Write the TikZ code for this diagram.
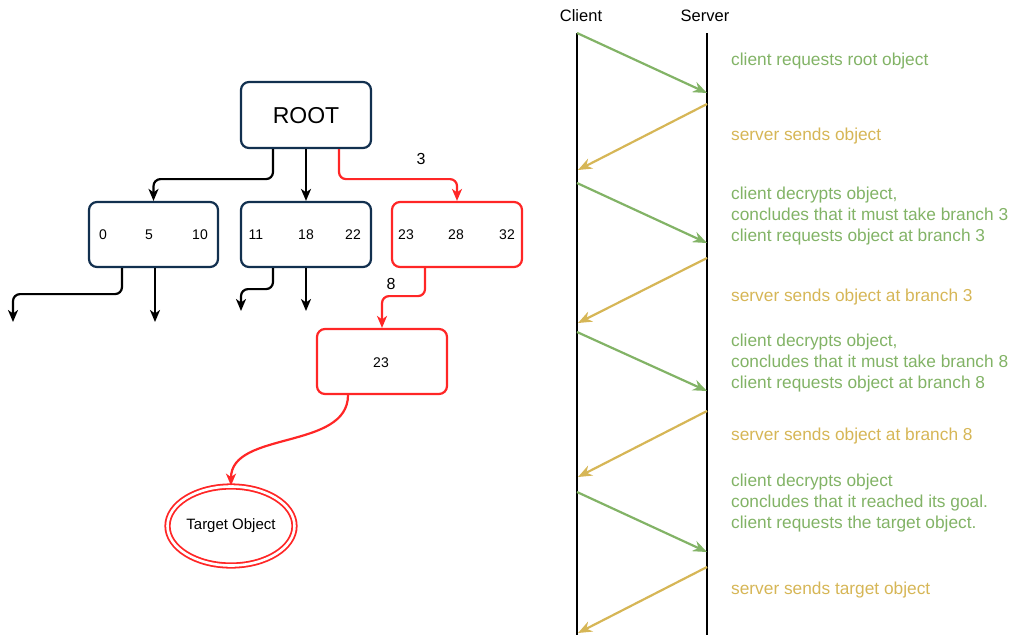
\documentclass[tikz,border=0pt]{standalone}
\usepackage{fontspec}
\setmainfont{Liberation Sans}
\usetikzlibrary{arrows.meta,shapes.geometric,calc}
\definecolor{navy}{HTML}{12304F}
\definecolor{myred}{HTML}{FF2626}
\definecolor{mygreen}{HTML}{82B366}
\definecolor{myyellow}{HTML}{D6B656}
\tikzset{
  box/.style={draw=navy,line width=2.2pt,rounded corners=8pt,minimum width=129pt,minimum height=65pt,inner sep=0pt},
  redbox/.style={box,draw=myred},
  num/.style={font=\fontsize{14}{16}\selectfont,inner sep=0pt},
  tarr/.style={line width=2.2pt,rounded corners=7pt,-{Stealth[length=12pt,width=10pt,inset=3.5pt]}},
  rarr/.style={tarr,draw=myred,-{Stealth[length=12pt,width=10pt,inset=3.5pt,fill=myred]}},
  life/.style={line width=2.4pt},
  req/.style={draw=mygreen,line width=2.2pt,-{Stealth[length=14pt,width=11pt,inset=4.5pt]}},
  resp/.style={draw=myyellow,line width=2.2pt,-{Stealth[length=14pt,width=11pt,inset=4.5pt]}},
  gtxt/.style={text=mygreen,anchor=west,align=left,inner sep=0pt,font=\fontsize{17.3}{20.7}\selectfont},
  ytxt/.style={gtxt,text=myyellow},
  head/.style={font=\fontsize{16.5}{19}\selectfont,inner sep=0pt}
}
\begin{document}
\begin{tikzpicture}[x=1pt,y=-1pt]
\useasboundingbox (0,0) rectangle (1011,635);
% tree
\node[box,minimum width=130pt,minimum height=66pt] (root) at (306,115) {};
\node[font=\fontsize{23}{26}\selectfont,inner sep=0pt] (roottxt) at (306,116) {ROOT};
\node[box] (n1) at (153.5,234.5) {};
\node[box,minimum width=130pt] (n2) at (306,234.5) {};
\node[redbox,minimum width=130pt] (n3) at (457,234.5) {};
\node[redbox,minimum width=130pt] (n4) at (382,361.5) {};
\node[num] (a1) at (103,235) {0};
\node[num] (a2) at (149,235) {5};
\node[num] (a3) at (200,235) {10};
\node[num] (b1) at (256,235) {11};
\node[num] (b2) at (306,235) {18};
\node[num] (b3) at (353,235) {22};
\node[num] (c1) at (406,235) {23};
\node[num] (c2) at (456,235) {28};
\node[num] (c3) at (507,235) {32};
\node[num] (d1) at (381,362.5) {23};
\node[draw=myred,ellipse,line width=1.8pt,double=white,double distance=2.6pt,minimum width=127pt,minimum height=79pt,inner sep=0pt,font=\fontsize{15}{17}\selectfont] (target) at (231,526) {Target Object};
\node[font=\fontsize{16}{18}\selectfont,inner sep=0pt] (l3) at (421,159) {3};
\node[font=\fontsize{16}{18}\selectfont,inner sep=0pt] (l8) at (391,284) {8};
% tree connectors
\draw[tarr] ([xshift=-33pt]root.south) -- ++(0,30) -| (n1.north);
\draw[tarr] (root.south) -- (n2.north);
\draw[rarr] ([xshift=33pt]root.south) -- ++(0,30) -| (n3.north);
\coordinate (e1) at (13,322);
\coordinate (e2) at (155,322);
\coordinate (e3) at (241,311);
\coordinate (e4) at (306,311);
\draw[tarr] ([xshift=-31.5pt]n1.south) -- ++(0,26) -| (e1);
\draw[tarr] ([xshift=1.5pt]n1.south) -- (e2);
\draw[tarr] ([xshift=-33pt]n2.south) -- ++(0,21) -| (e3);
\draw[tarr] (n2.south) -- (e4);
\draw[rarr] ([xshift=-32pt]n3.south) -- ++(0,28) -| (n4.north);
\draw[myred,line width=2.2pt,-{Stealth[length=12pt,width=10pt,inset=3.5pt,fill=myred]}] ([xshift=-34pt]n4.south) .. controls ($([xshift=-34pt]n4.south)+(0,55)$) and ($(target.north)+(0,-55)$) .. (target.north);
% sequence
\node[head] (client) at (581,16) {Client};
\node[head] (server) at (705,16) {Server};
\coordinate (ct) at (577,33);
\coordinate (cb) at (577,635);
\coordinate (st) at (707,33);
\coordinate (sb) at (707,635);
\draw[life] (ct) -- (cb);
\draw[life] (st) -- (sb);
\coordinate (g1a) at (577,33);  \coordinate (g1b) at (707,93);
\coordinate (y1a) at (707,104); \coordinate (y1b) at (578,170);
\coordinate (g2a) at (577,183); \coordinate (g2b) at (707,243);
\coordinate (y2a) at (707,258); \coordinate (y2b) at (578,323);
\coordinate (g3a) at (577,332); \coordinate (g3b) at (707,391);
\coordinate (y3a) at (707,411); \coordinate (y3b) at (578,477);
\coordinate (g4a) at (577,492); \coordinate (g4b) at (707,552);
\coordinate (y4a) at (707,567); \coordinate (y4b) at (578,633);
\draw[req] (g1a) -- (g1b);
\draw[resp] (y1a) -- (y1b);
\draw[req] (g2a) -- (g2b);
\draw[resp] (y2a) -- (y2b);
\draw[req] (g3a) -- (g3b);
\draw[resp] (y3a) -- (y3b);
\draw[req] (g4a) -- (g4b);
\draw[resp] (y4a) -- (y4b);
\node[gtxt] (t1) at (731,61) {client requests root object};
\node[ytxt] (t2) at (731,136) {server sends object};
\node[gtxt] (t3) at (731,216) {client decrypts object,\\concludes that it must take branch 3\\client requests object at branch 3};
\node[ytxt] (t4) at (731,297) {server sends object at branch 3};
\node[gtxt] (t5) at (731,363) {client decrypts object,\\concludes that it must take branch 8\\client requests object at branch 8};
\node[ytxt] (t6) at (731,436) {server sends object at branch 8};
\node[gtxt] (t7) at (731,503) {client decrypts object\\concludes that it reached its goal.\\client requests the target object.};
\node[ytxt] (t8) at (731,590) {server sends target object};
\end{tikzpicture}
\end{document}
